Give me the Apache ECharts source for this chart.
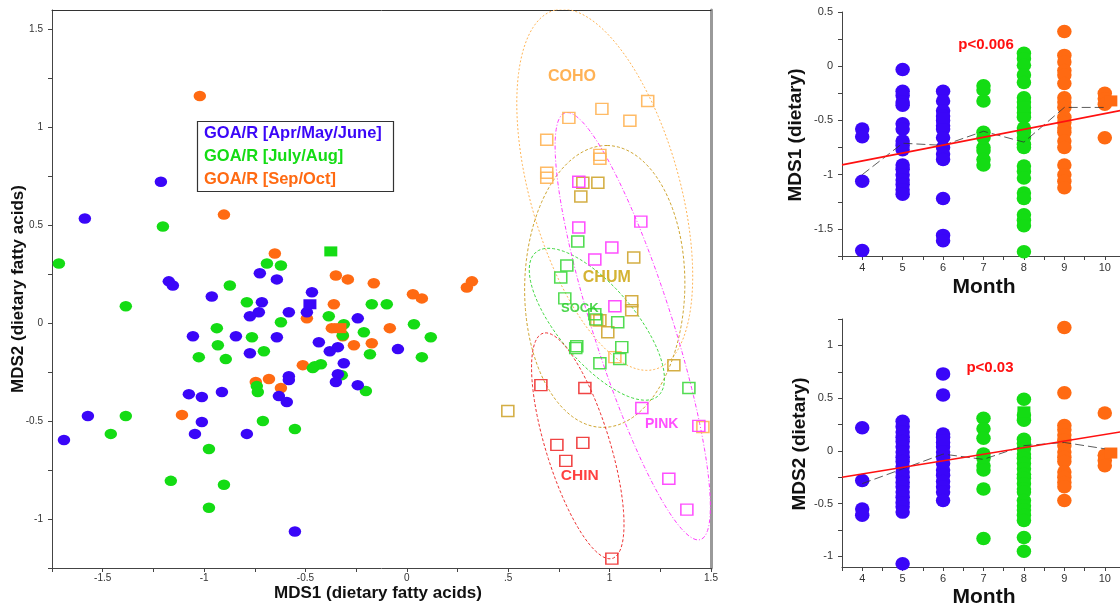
<!DOCTYPE html>
<html>
<head>
<meta charset="utf-8">
<script src="https://cdn.jsdelivr.net/npm/echarts@6/dist/echarts.min.js"></script>
<style>
  html, body { margin: 0; padding: 0; background: #fff; }
  #chart { width: 1120px; height: 606px; }
</style>
</head>
<body>
<div id="chart"></div>
<script>
// ---- GOA/R juveniles: MDS1 / MDS2 of dietary fatty acids ----
const springPts = [[-1.691,-0.596],[-1.573,-0.474],[-1.588,0.535],[-1.213,0.723],[-1.174,0.214],[-1.154,0.193],[-0.962,0.137],[-0.725,0.255],[-0.715,0.107],[-0.730,0.056],[-0.774,0.036],[-1.055,-0.066],[-0.843,-0.066],[-0.774,-0.153],[-1.075,-0.362],[-1.011,-0.377],[-0.912,-0.351],[-1.011,-0.504],[-1.045,-0.565],[-0.789,-0.565],[-0.641,0.224],[-0.468,0.158],[-0.493,0.056],[-0.582,0.056],[-0.641,-0.071],[-0.434,-0.097],[-0.242,0.025],[-0.380,-0.143],[-0.340,-0.122],[-0.311,-0.204],[-0.582,-0.270],[-0.582,-0.290],[-0.340,-0.260],[-0.350,-0.300],[-0.242,-0.316],[-0.631,-0.372],[-0.592,-0.402],[-0.044,-0.132],[-0.552,-1.064]];
const summerPts = [[-1.716,0.305],[-1.203,0.494],[-0.873,0.193],[-0.789,0.107],[-0.690,0.305],[-0.621,0.295],[-1.386,0.087],[-0.937,-0.025],[-0.764,-0.071],[-0.932,-0.112],[-1.026,-0.173],[-0.893,-0.183],[-0.705,-0.143],[-0.740,-0.321],[-0.735,-0.351],[-1.386,-0.474],[-1.460,-0.565],[-0.976,-0.642],[-0.710,-0.499],[-1.164,-0.805],[-0.902,-0.825],[-0.976,-0.942],[-0.621,0.005],[-0.385,0.036],[-0.311,-0.005],[-0.316,-0.061],[-0.212,-0.046],[-0.173,0.097],[-0.099,0.097],[-0.182,-0.158],[-0.454,-0.219],[-0.424,-0.209],[-0.464,-0.229],[-0.321,-0.265],[-0.202,-0.346],[-0.552,-0.540],[0.035,-0.005],[0.118,-0.071],[0.074,-0.173]];
const autumnPts = [[-1.021,1.161],[-0.902,0.555],[-0.651,0.356],[-0.350,0.244],[-0.291,0.224],[-0.163,0.204],[0.030,0.148],[0.074,0.127],[0.296,0.183],[0.321,0.214],[-0.360,0.097],[-0.493,0.025],[-0.370,-0.025],[-0.316,-0.066],[-0.261,-0.112],[-0.173,-0.102],[-0.084,-0.025],[-0.513,-0.214],[-0.680,-0.285],[-0.745,-0.300],[-0.621,-0.331],[-1.109,-0.468]];
// individual samples drawn as filled squares (spring, summer, autumn)
const goaSquarePts = [[-0.478,0.097],[-0.375,0.367],[-0.330,-0.025]];

// ---- Pacific salmon species ----
const cohoPts = [[1.188,1.135],[0.962,1.095],[1.100,1.034],[0.799,1.049],[0.690,0.937],[0.952,0.860],[0.952,0.840],[0.690,0.769],[0.690,0.743],[0.937,0.015],[1.026,-0.173],[1.460,-0.530]];
const chumPts = [[0.868,0.718],[0.942,0.718],[0.858,0.647],[1.119,0.336],[1.109,0.112],[1.109,0.066],[0.952,0.015],[0.991,-0.046],[1.317,-0.214],[0.498,-0.448]];
const sockPts = [[0.843,0.418],[0.789,0.295],[0.759,0.234],[0.779,0.127],[0.927,0.046],[0.932,0.020],[1.040,0.005],[0.838,-0.117],[0.833,-0.127],[1.060,-0.122],[1.050,-0.183],[0.952,-0.204],[1.391,-0.331]];
const pinkPts = [[0.848,0.723],[0.848,0.489],[1.154,0.519],[1.011,0.387],[0.927,0.326],[1.026,0.087],[1.159,-0.433],[1.440,-0.524],[1.292,-0.794],[1.381,-0.952]];
const chinPts = [[0.661,-0.316],[0.878,-0.331],[0.740,-0.621],[0.868,-0.611],[0.784,-0.703],[1.011,-1.202]];
const speciesNames = ['COHO', 'CHUM', 'SOCK', 'PINK', 'CHIN'];
// species ellipses: centre x, centre y, semi-major, semi-minor, major-axis angle (deg)
const ellipseCx = [0.976, 0.976, 0.937, 1.114, 0.843];
const ellipseCy = [0.682, 0.188, -0.005, -0.015, -0.626];
const ellipseA = [0.95, 0.72, 0.475, 1.14, 0.60];
const ellipseB = [0.37, 0.395, 0.19, 0.197, 0.158];
const ellipseAngle = [105, 89, 129, 107, 106.5];
// species label anchor points
const speciesLabelPts = [[0.814,1.258],[0.986,0.234],[0.853,0.076],[1.257,-0.514],[0.853,-0.779]];

// ---- MDS scores by month ----
const months = [4, 5, 6, 7, 8, 9, 10];
const mds1M4 = [-0.58, -0.65, -1.06, -1.70];
const mds1M5 = [-0.03, -0.23, -0.27, -0.33, -0.36, -0.53, -0.58, -0.69, -0.73, -0.77, -0.91, -0.95, -1.00, -1.05, -1.09, -1.14, -1.18];
const mds1M6 = [-0.23, -0.32, -0.41, -0.46, -0.50, -0.55, -0.58, -0.66, -0.75, -0.81, -0.86, -1.22, -1.56, -1.61];
const mds1M7 = [-0.18, -0.22, -0.32, -0.61, -0.66, -0.75, -0.78, -0.86, -0.91];
const mds1M8 = [0.12, 0.07, 0.01, -0.08, -0.15, -0.29, -0.33, -0.38, -0.43, -0.47, -0.57, -0.61, -0.66, -0.72, -0.75, -0.92, -0.97, -1.03, -1.17, -1.22, -1.37, -1.42, -1.47, -1.71];
const mds1M9 = [0.32, 0.10, 0.04, -0.04, -0.08, -0.16, -0.29, -0.33, -0.38, -0.47, -0.52, -0.57, -0.61, -0.69, -0.75, -0.91, -1.00, -1.06, -1.12];
const mds1M10 = [-0.25, -0.30, -0.35, -0.66];
const mds2M4 = [0.22, -0.28, -0.55, -0.61];
const mds2M5 = [0.28, 0.23, 0.18, 0.13, 0.09, 0.04, -0.01, -0.06, -0.10, -0.15, -0.20, -0.25, -0.30, -0.34, -0.39, -0.44, -0.49, -0.53, -0.58, -1.07];
const mds2M6 = [0.73, 0.53, 0.16, 0.13, 0.08, 0.04, -0.01, -0.06, -0.12, -0.18, -0.23, -0.29, -0.34, -0.39, -0.47];
const mds2M7 = [0.31, 0.21, 0.12, -0.03, -0.07, -0.14, -0.18, -0.36, -0.83];
const mds2M8 = [0.49, 0.34, 0.29, 0.11, 0.07, 0.02, -0.03, -0.07, -0.12, -0.17, -0.22, -0.26, -0.31, -0.36, -0.39, -0.47, -0.52, -0.56, -0.61, -0.66, -0.82, -0.95];
const mds2M9 = [1.17, 0.55, 0.24, 0.20, 0.15, 0.10, 0.05, -0.01, -0.06, -0.10, -0.20, -0.25, -0.30, -0.34, -0.47];
const mds2M10 = [0.36, -0.04, -0.09, -0.14];
// square samples in the month panels
const squareMonths = [6, 8, 10.15];
const squareMds1 = [-0.48, -0.375, -0.32];
const squareMds2 = [0.10, 0.37, -0.02];
// monthly means (dashed) and linear fits (red)
const mds1Means = [-1.00, -0.71, -0.73, -0.60, -0.70, -0.38, -0.38];
const mds2Means = [-0.31, -0.17, -0.03, -0.08, 0.05, 0.08, 0.02];
const mds1Fit = [0.0727, -1.164];   // slope, intercept
const mds2Fit = [0.0625, -0.469];
const pTexts = ['p<0.006', 'p<0.03'];

// ---- tick values and labels ----
const mainXTicks = [-1.75, -1.5, -1.25, -1, -0.75, -0.5, -0.25, 0, 0.25, 0.5, 0.75, 1, 1.25, 1.5];
const mainXLabelVals = [-1.5, -1, -0.5, 0, 0.5, 1, 1.5];
const mainXLabelText = ['-1.5', '-1', '-0.5', '0', '.5', '1', '1.5'];
const mainYTicks = [-1.25, -1, -0.75, -0.5, -0.25, 0, 0.25, 0.5, 0.75, 1, 1.25, 1.5];
const mainYLabelVals = [-1, -0.5, 0, 0.5, 1, 1.5];
const monthTicks = [3.5, 4, 4.5, 5, 5.5, 6, 6.5, 7, 7.5, 8, 8.5, 9, 9.5, 10, 10.5];
const mds1Ticks = [-1.75, -1.5, -1.25, -1, -0.75, -0.5, -0.25, 0, 0.25, 0.5];
const mds1LabelVals = [-1.5, -1, -0.5, 0, 0.5];
const mds2Ticks = [-1, -0.75, -0.5, -0.25, 0, 0.25, 0.5, 0.75, 1, 1.25];
const mds2LabelVals = [-1, -0.5, 0, 0.5, 1];

// ---- styles ----
const BLUE = '#3a06f8', GREEN = '#14dc14', ORANGE = '#ff6a12';
const FONT = "'Liberation Sans', Arial, sans-serif";
const speciesColor = ['#ffb455', '#cfa530', '#3fd83f', '#ff3cff', '#ee3030'];
const speciesLabelColor = ['#ff9f2a', '#c9a000', '#22cc22', '#ff22ff', '#ff1010'];
const speciesDash = [[2, 2], [3, 2], [3, 2], [4, 2, 1, 2], [3, 2]];
const speciesFont = [16, 16, 13, 14, 15.5];

function axis(gridIndex, pos, min, max, ticks, labelVals, fmt, fontSize, margin) {
  return {
    type: 'value', gridIndex, position: pos, min, max,
    axisLine: { show: true, onZero: false, lineStyle: { color: '#444', width: 1 } },
    axisTick: { show: true, customValues: ticks, length: 4, lineStyle: { color: '#444' } },
    axisLabel: { show: true, customValues: labelVals, formatter: fmt, fontSize, color: '#333', fontFamily: FONT, margin },
    splitLine: { show: false }
  };
}
function frame(gridIndex, pos, min, max, color, width) {
  return {
    type: 'value', gridIndex, position: pos, min, max,
    axisLine: { show: true, onZero: false, lineStyle: { color, width } },
    axisTick: { show: false }, axisLabel: { show: false }, splitLine: { show: false }
  };
}
const plainFmt = v => String(v);

// axis index layout: 0 = main scatter, 1 = main frame, 2 = MDS1 panel, 3 = MDS2 panel
const xAxes = [
  axis(0, 'bottom', -1.75, 1.5, mainXTicks, mainXLabelVals, v => mainXLabelText[mainXLabelVals.indexOf(v)] ?? String(v), 10, 5),
  frame(0, 'top', -1.75, 1.5, '#333', 1),
  axis(1, 'bottom', 3.5, 10.5, monthTicks, months, plainFmt, 11, 6),
  axis(2, 'bottom', 3.5, 10.5, monthTicks, months, plainFmt, 11, 6)
];
const yAxes = [
  axis(0, 'left', -1.25, 1.6, mainYTicks, mainYLabelVals, plainFmt, 10, 9),
  frame(0, 'right', -1.25, 1.6, '#9a9a9a', 3),
  axis(1, 'left', -1.75, 0.5, mds1Ticks, mds1LabelVals, plainFmt, 11, 9),
  axis(2, 'left', -1.1, 1.25, mds2Ticks, mds2LabelVals, plainFmt, 11, 9)
];

const series = [];

// species ellipses
speciesNames.forEach((name, i) => {
  const th = ellipseAngle[i] * Math.PI / 180;
  const pts = [];
  for (let k = 0; k <= 180; k++) {
    const t = k / 180 * 2 * Math.PI;
    const u = ellipseA[i] * Math.cos(t), v = ellipseB[i] * Math.sin(t);
    pts.push([ellipseCx[i] + u * Math.cos(th) - v * Math.sin(th),
              ellipseCy[i] + u * Math.sin(th) + v * Math.cos(th)]);
  }
  series.push({
    type: 'line', xAxisIndex: 0, yAxisIndex: 0, data: pts, symbol: 'none', silent: true,
    clip: true, z: 1, lineStyle: { color: speciesColor[i], width: 1, type: speciesDash[i] }
  });
});

// species samples (hollow squares)
[cohoPts, chumPts, sockPts, pinkPts, chinPts].forEach((pts, i) => {
  series.push({
    type: 'scatter', xAxisIndex: 0, yAxisIndex: 0, data: pts, symbol: 'rect', symbolSize: [12, 11], z: 2,
    itemStyle: { color: 'rgba(255,255,255,0)', borderColor: speciesColor[i], borderWidth: 1.5, opacity: 0.9 }
  });
});

// species labels
speciesNames.forEach((name, i) => {
  series.push({
    type: 'scatter', xAxisIndex: 0, yAxisIndex: 0, symbolSize: 1, z: 3, silent: true,
    itemStyle: { color: 'rgba(0,0,0,0)' },
    data: [{ name, value: speciesLabelPts[i] }],
    label: { show: true, position: 'inside', formatter: '{b}', color: speciesLabelColor[i],
             fontWeight: 'bold', fontSize: speciesFont[i], fontFamily: FONT }
  });
});

// GOA/R samples
[[autumnPts, ORANGE], [summerPts, GREEN], [springPts, BLUE]].forEach(([pts, c], i) => {
  series.push({ type: 'scatter', xAxisIndex: 0, yAxisIndex: 0, data: pts, symbol: 'circle',
                symbolSize: [12.5, 10.5], z: 4 + i, itemStyle: { color: c, opacity: 1 } });
});
[BLUE, GREEN, ORANGE].forEach((c, i) => {
  series.push({ type: 'scatter', xAxisIndex: 0, yAxisIndex: 0, data: [goaSquarePts[i]], symbol: 'rect',
                symbolSize: [13, 10], z: 8, itemStyle: { color: c, opacity: 1 } });
});

// month panels
const monthColors = [BLUE, BLUE, BLUE, GREEN, GREEN, ORANGE, ORANGE];
const squareColors = [BLUE, GREEN, ORANGE];
function monthPanel(ai, byMonth, squares, means, fit) {
  [BLUE, GREEN, ORANGE].forEach(c => {
    const data = [];
    byMonth.forEach((vals, j) => { if (monthColors[j] === c) vals.forEach(v => data.push([months[j], v])); });
    series.push({ type: 'scatter', xAxisIndex: ai, yAxisIndex: ai, data, symbol: 'circle',
                  symbolSize: [14.5, 13.5], z: 3, itemStyle: { color: c, opacity: 1 } });
  });
  squares.forEach((v, i) => {
    series.push({ type: 'scatter', xAxisIndex: ai, yAxisIndex: ai, data: [[squareMonths[i], v]], symbol: 'rect',
                  symbolSize: [13, 11], z: 4, itemStyle: { color: squareColors[i], opacity: 1 } });
  });
  series.push({ type: 'line', xAxisIndex: ai, yAxisIndex: ai, data: months.map((m, j) => [m, means[j]]),
                symbol: 'none', z: 6, silent: true, lineStyle: { color: '#333', width: 0.8, type: [9, 4] } });
  series.push({ type: 'line', xAxisIndex: ai, yAxisIndex: ai, symbol: 'none', z: 7, silent: true, clip: true,
                data: [3.5, 10.5].map(m => [m, fit[1] + fit[0] * m]),
                lineStyle: { color: '#ff1010', width: 1.6 } });
}
monthPanel(2, [mds1M4, mds1M5, mds1M6, mds1M7, mds1M8, mds1M9, mds1M10], squareMds1, mds1Means, mds1Fit);
monthPanel(3, [mds2M4, mds2M5, mds2M6, mds2M7, mds2M8, mds2M9, mds2M10], squareMds2, mds2Means, mds2Fit);

// titles, legend and annotation text
function txt(x, y, text, size, color, rot, align) {
  return { type: 'text', x, y, rotation: rot || 0, z: 100,
    style: { text, x: 0, y: 0, fill: color, font: `bold ${size}px ${FONT}`,
             align: align || 'center', verticalAlign: 'middle',
             textAlign: align || 'center', textVerticalAlign: 'middle' } };
}
const legendItems = ['GOA/R [Apr/May/June]', 'GOA/R [July/Aug]', 'GOA/R [Sep/Oct]'];
const graphic = [
  txt(378, 593, 'MDS1 (dietary fatty acids)', 17, '#111'),
  txt(18, 289, 'MDS2 (dietary fatty acids)', 17, '#111', Math.PI / 2),
  txt(796, 135, 'MDS1 (dietary)', 19, '#111', Math.PI / 2),
  txt(800, 444, 'MDS2 (dietary)', 19, '#111', Math.PI / 2),
  txt(984, 287, 'Month', 21, '#111'),
  txt(984, 597, 'Month', 21, '#111'),
  txt(986, 45, pTexts[0], 15, '#ff1010'),
  txt(990, 368, pTexts[1], 15, '#ff1010'),
  { type: 'rect', z: 99, shape: { x: 197.5, y: 121.5, width: 196, height: 70 },
    style: { fill: '#fff', stroke: '#333', lineWidth: 1.2 } },
  txt(204, 133, legendItems[0], 16.5, BLUE, 0, 'left'),
  txt(204, 156, legendItems[1], 16.5, GREEN, 0, 'left'),
  txt(204, 179, legendItems[2], 16.5, ORANGE, 0, 'left')
];

const chart = echarts.init(document.getElementById('chart'), null, { renderer: 'canvas' });
chart.setOption({
  backgroundColor: '#fff',
  animation: false,
  grid: [
    { left: 52, top: 10, width: 659, height: 558, outerBoundsMode: 'none' },
    { left: 842, top: 12, width: 283, height: 244, outerBoundsMode: 'none' },
    { left: 842, top: 319, width: 283, height: 248, outerBoundsMode: 'none' }
  ],
  xAxis: xAxes,
  yAxis: yAxes,
  series,
  graphic
});
</script>
</body>
</html>
